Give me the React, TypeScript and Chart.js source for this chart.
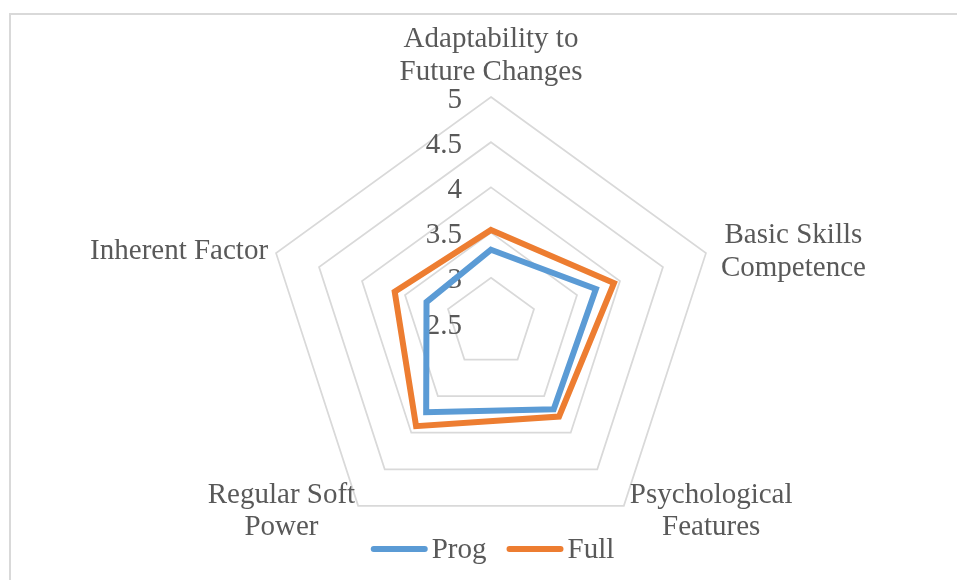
import React, { useEffect, useRef } from "react";
import { Chart, registerables } from "chart.js";

Chart.register(...registerables);

const categories: string[][] = [
  ["Adaptability to", "Future Changes"],
  ["Basic Skills", "Competence"],
  ["Psychological", "Features"],
  ["Regular Soft", "Power"],
  ["Inherent Factor"],
];
const seriesNames = ["Prog", "Full"];
const progValues = [3.31, 3.72, 3.68, 3.72, 3.25];
const fullValues = [3.53, 3.93, 3.78, 3.91, 3.62];
const tickValues = [2.5, 3, 3.5, 4, 4.5, 5];
const tickLabels = ["2.5", "3", "3.5", "4", "4.5", "5"];

const FONT = '29px "Liberation Serif", "Times New Roman", serif';
const TEXT_COLOR = "#595959";
const LINE_GAP = 32.5;

// placement of category labels relative to outer vertex: anchor, dx, first-baseline dy
const labelPlacement = [
  { anchor: "center", dx: 0, dy: -50 },
  { anchor: "left", dx: 15, dy: -10 },
  { anchor: "left", dx: 6, dy: -3 },
  { anchor: "right", dx: -3, dy: -3 },
  { anchor: "right", dx: -8, dy: 6 },
];

const decorPlugin = {
  id: "decor",
  beforeDraw(chart: any) {
    const ctx = chart.ctx;
    ctx.save();
    ctx.strokeStyle = "#d9d9d9";
    ctx.lineWidth = 2;
    ctx.strokeRect(10, 14, 3000, 3000);
    ctx.restore();
  },
  beforeDatasetsDraw(chart: any) {
    const ctx = chart.ctx;
    const scale = chart.scales.r;
    ctx.save();
    ctx.font = FONT;
    ctx.fillStyle = TEXT_COLOR;
    ctx.textAlign = "right";
    ctx.textBaseline = "middle";
    tickValues.forEach((v, i) => {
      const d = scale.getDistanceFromCenterForValue(v);
      ctx.fillText(tickLabels[i], scale.xCenter - 29, scale.yCenter - d + 3);
    });
    // category labels
    ctx.textAlign = "center";
    ctx.textBaseline = "alphabetic";
    chart.data.labels.forEach((lab: string[], i: number) => {
      const p = scale.getPointPosition(i, scale.drawingArea);
      const pl = labelPlacement[i];
      const lines = Array.isArray(lab) ? lab : [lab];
      const w = Math.max(...lines.map((l) => ctx.measureText(l).width));
      let cx = p.x + pl.dx;
      if (pl.anchor === "left") cx = p.x + pl.dx + w / 2;
      if (pl.anchor === "right") cx = p.x + pl.dx - w / 2;
      lines.forEach((l, k) => {
        ctx.fillText(l, cx, p.y + pl.dy + k * LINE_GAP);
      });
    });
    ctx.restore();
  },
  afterDraw(chart: any) {
    const ctx = chart.ctx;
    ctx.save();
    ctx.font = FONT;
    ctx.textBaseline = "middle";
    ctx.textAlign = "left";
    const lineLen = 55;
    const textGap = 5;
    const itemGap = 21;
    const items = chart.data.datasets.map((ds: any) => ({
      label: ds.label,
      color: ds.borderColor,
      w: lineLen + textGap + ctx.measureText(ds.label).width,
    }));
    const total = items.reduce((s: number, it: any) => s + it.w, 0) + itemGap * (items.length - 1);
    let x = 493 - total / 2;
    const y = 549;
    items.forEach((it: any) => {
      ctx.strokeStyle = it.color;
      ctx.lineWidth = 6;
      ctx.lineCap = "round";
      ctx.beginPath();
      ctx.moveTo(x + 2, y);
      ctx.lineTo(x + lineLen - 2, y);
      ctx.stroke();
      ctx.fillStyle = TEXT_COLOR;
      ctx.fillText(it.label, x + lineLen + textGap, y + 1);
      x += it.w + itemGap;
    });
    ctx.restore();
  },
};

export default function App() {
  const ref = useRef<HTMLCanvasElement | null>(null);
  useEffect(() => {
    if (!ref.current) return;
    const chart = new Chart(ref.current, {
      type: "radar",
      data: {
        labels: categories,
        datasets: [
          {
            label: seriesNames[0],
            data: progValues,
            borderColor: "#5B9BD5",
            backgroundColor: "rgba(0,0,0,0)",
            borderWidth: 6,
            pointRadius: 0,
            pointHoverRadius: 0,
            fill: false,
          },
          {
            label: seriesNames[1],
            data: fullValues,
            borderColor: "#ED7D31",
            backgroundColor: "rgba(0,0,0,0)",
            borderWidth: 6,
            pointRadius: 0,
            pointHoverRadius: 0,
            fill: false,
          },
        ],
      },
      options: {
        responsive: false,
        animation: false,
        layout: { padding: { left: 265, right: 240, top: 97, bottom: 31 } },
        plugins: {
          legend: { display: false },
          tooltip: { enabled: false },
        },
        scales: {
          r: {
            min: 2.5,
            max: 5,
            ticks: { display: false, stepSize: 0.5 },
            grid: { color: "#d9d9d9", lineWidth: 1.75 },
            angleLines: { display: false },
            pointLabels: { display: false },
          },
        },
      },
      plugins: [decorPlugin],
    });
    return () => chart.destroy();
  }, []);
  return (
    <div style={{ position: "fixed", left: 0, top: 0, width: 957, height: 580, background: "#fff" }}>
      <canvas ref={ref} width={957} height={580} style={{ display: "block" }} />
    </div>
  );
}
